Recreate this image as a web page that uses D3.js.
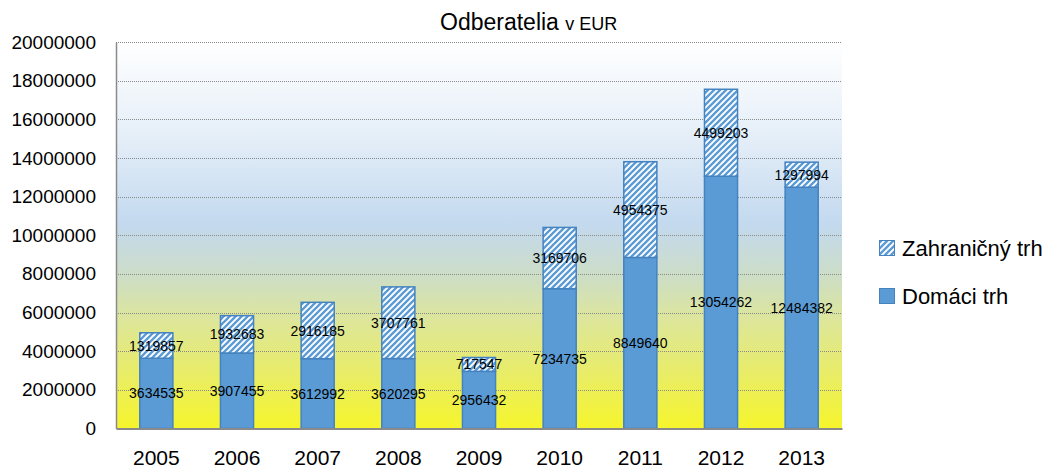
<!DOCTYPE html>
<html><head><meta charset="utf-8">
<script src="https://cdn.jsdelivr.net/npm/d3@7"></script>
<style>body{margin:0;background:#fff;} svg{display:block;font-family:"Liberation Sans",Arial,sans-serif;}</style>
</head><body><svg id="c" width="1059" height="468"></svg>
<script>
const years = ["2005","2006","2007","2008","2009","2010","2011","2012","2013"];
const domestic = [3634535,3907455,3612992,3620295,2956432,7234735,8849640,13054262,12484382];
const foreign = [1319857,1932683,2916185,3707761,717547,3169706,4954375,4499203,1297994];
const yTicks = [0,2000000,4000000,6000000,8000000,10000000,12000000,14000000,16000000,18000000,20000000];
const seriesNames = ["Domáci trh","Zahraničný trh"];

const svg = d3.select("#c");
const L=116, R=842, T=42, B=428.5;
const x = d3.scaleBand().domain(years).range([L,R]).paddingInner(0.59).paddingOuter(0.295);
const y = d3.scaleLinear().domain([0,20000000]).range([B,T]);

const defs = svg.append("defs");
const g = defs.append("linearGradient").attr("id","bg").attr("x1",0).attr("y1",0).attr("x2",0).attr("y2",1);
[[0,"#ffffff"],[0.25,"#e4eef8"],[0.47,"#c3d9ef"],[0.6,"#ccddc8"],[0.72,"#dde69a"],[0.85,"#e8ec6a"],[1,"#f6f52c"]]
 .forEach(([o,c])=>g.append("stop").attr("offset",o).attr("stop-color",c));
const pat = defs.append("pattern").attr("id","hatch").attr("patternUnits","userSpaceOnUse").attr("width",6).attr("height",6);
pat.append("rect").attr("width",6).attr("height",6).attr("fill","#ffffff");
pat.append("path").attr("d","M-1,7 L7,-1 M-4,4 L4,-4 M2,10 L10,2").attr("stroke","#5b9bd5").attr("stroke-width",2.3);

svg.append("rect").attr("x",L).attr("y",T).attr("width",R-L).attr("height",B-T).attr("fill","url(#bg)");

svg.append("g").selectAll("line").data(yTicks.filter(d=>d>0)).join("line")
  .attr("x1",L).attr("x2",R).attr("y1",d=>Math.round(y(d))+0.5).attr("y2",d=>Math.round(y(d))+0.5)
  .attr("stroke","#8a8a8a").attr("stroke-width",1).attr("stroke-dasharray","1,1");

// y axis
const ya = svg.append("g").attr("transform",`translate(${L},0)`)
  .call(d3.axisLeft(y).tickValues(yTicks).tickSize(0).tickPadding(20).tickFormat(d3.format("d")));
ya.select(".domain").attr("stroke","#8a8a8a").attr("stroke-width",1.5);
ya.selectAll("text").attr("font-size",19).attr("fill","#000").attr("font-family","Liberation Sans, Arial, sans-serif");

// bars
const bw = x.bandwidth();
const bars = svg.append("g");
bars.selectAll("rect.d").data(years).join("rect").attr("class","d")
  .attr("x",d=>x(d)).attr("width",bw)
  .attr("y",(d,i)=>y(domestic[i])).attr("height",(d,i)=>y(0)-y(domestic[i]))
  .attr("fill","#5b9bd5").attr("stroke","#4582c0").attr("stroke-width",1.5);
bars.selectAll("rect.f").data(years).join("rect").attr("class","f")
  .attr("x",d=>x(d)).attr("width",bw)
  .attr("y",(d,i)=>y(domestic[i]+foreign[i])).attr("height",(d,i)=>y(domestic[i])-y(domestic[i]+foreign[i]))
  .attr("fill","url(#hatch)").attr("stroke","#4582c0").attr("stroke-width",1.5);

// x axis
const xa = svg.append("g").attr("transform",`translate(0,${B})`)
  .call(d3.axisBottom(x).tickSize(0).tickPadding(22));
xa.select(".domain").attr("stroke","#8a8a8a").attr("stroke-width",2);
xa.selectAll("text").attr("font-size",21).attr("fill","#000").attr("font-family","Liberation Sans, Arial, sans-serif");

// labels
const lab = svg.append("g").attr("font-size",14).attr("text-anchor","middle").attr("fill","#000");
lab.selectAll("text.d").data(years).join("text").attr("class","d")
  .attr("x",d=>x(d)+bw/2).attr("y",(d,i)=>y(domestic[i]/2)).attr("dy","0.36em").text((d,i)=>domestic[i]);
lab.selectAll("text.f").data(years).join("text").attr("class","f")
  .attr("x",d=>x(d)+bw/2).attr("y",(d,i)=>y(domestic[i]+foreign[i]/2)).attr("dy","0.36em").text((d,i)=>foreign[i]);

// title
const t = svg.append("text").attr("x",440).attr("y",30).attr("font-size",23).attr("fill","#000");
t.append("tspan").text("Odberatelia ");
t.append("tspan").attr("font-size",18).text("v EUR");

// legend
const leg = svg.append("g");
const items = [{name:seriesNames[1],fill:"url(#hatch)",y:240},{name:seriesNames[0],fill:"#5b9bd5",y:288}];
items.forEach(it=>{
  leg.append("rect").attr("x",879.5).attr("y",it.y+0.5).attr("width",15).attr("height",15)
    .attr("fill",it.fill).attr("stroke","#4582c0").attr("stroke-width",1);
  leg.append("text").attr("x",902).attr("y",it.y+16).attr("font-size",22).attr("fill","#000").text(it.name);
});
</script></body></html>
